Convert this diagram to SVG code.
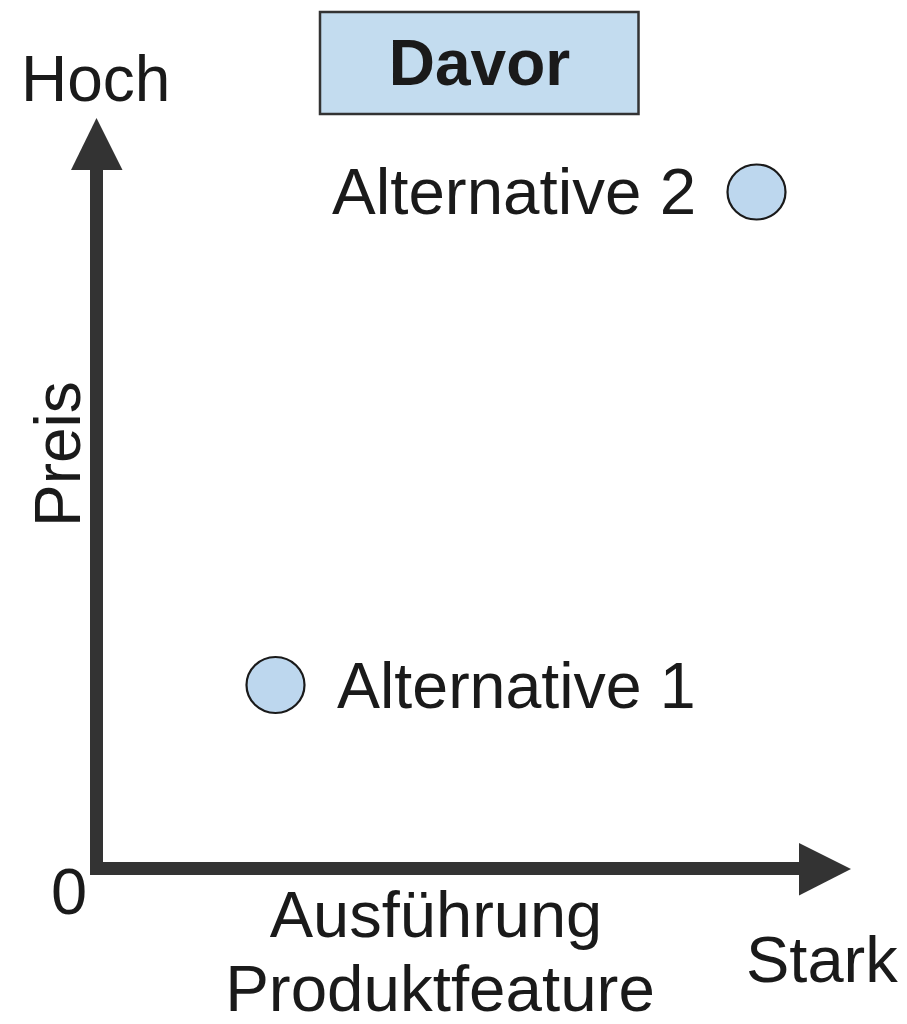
<svg xmlns="http://www.w3.org/2000/svg" width="907" height="1024" viewBox="0 0 907 1024">
<style>
text{font-family:"Liberation Sans",Arial,sans-serif;font-size:65px;fill:#1a1a1a}
.b{font-weight:bold;font-size:64px}
.m{text-anchor:middle}
.pt{fill:#bdd7ee;stroke:#1a1a1a;stroke-width:2.2}
.ax{stroke:#333;stroke-width:13;fill:none}
.ah{fill:#333}
</style>
<rect width="907" height="1024" fill="#fff"/>
<g id="title">
<rect x="320" y="12" width="318.5" height="102" fill="#c3dcef" stroke="#333" stroke-width="2.5"/>
<text class="b m" x="479.5" y="85">Davor</text>
</g>
<g id="connectors">
<path class="ax" d="M96.5 168 V874.5 M90 868.5 H802"/>
<polygon class="ah" points="96.5,118 71,170 122.5,170"/>
<polygon class="ah" points="851,869 799,843 799,895.5"/>
</g>
<g id="axis-labels">
<text x="21" y="101" style="font-size:64px">Hoch</text>
<text transform="translate(80,527) rotate(-90)" style="font-size:64px">Preis</text>
<text x="51" y="914">0</text>
<text class="m" x="436" y="937">Ausführung</text>
<text class="m" x="440" y="1011" style="font-size:65.5px">Produktfeature</text>
<text x="746" y="982">Stark</text>
</g>
<g id="alt2">
<text x="332" y="214" style="font-size:65.5px">Alternative 2</text>
<ellipse class="pt" cx="756.5" cy="192" rx="29" ry="27.5"/>
</g>
<g id="alt1">
<ellipse class="pt" cx="275.5" cy="685" rx="29" ry="28"/>
<text x="337" y="708" style="font-size:64.5px">Alternative 1</text>
</g>
</svg>
